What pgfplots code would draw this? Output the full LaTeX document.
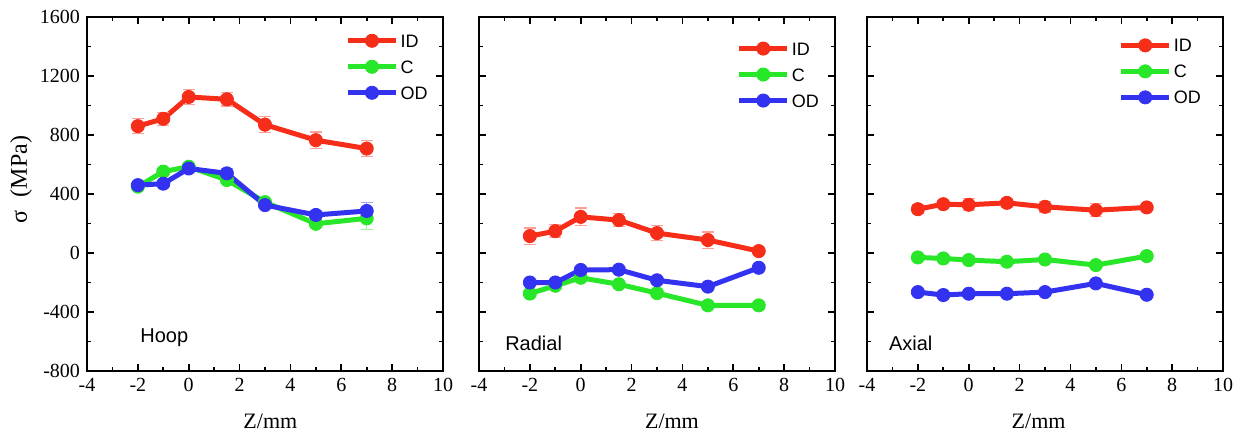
\documentclass[border=0pt]{standalone}
\usepackage{fontspec}
\setmainfont{Liberation Serif}
\setsansfont{Liberation Sans}
\usepackage{pgfplots}
\pgfplotsset{compat=1.18}
\definecolor{cR}{RGB}{245,45,25}
\definecolor{cG}{RGB}{40,230,40}
\definecolor{cB}{RGB}{50,50,240}
\pgfplotsset{
 panel/.style={
  scale only axis, width=178pt, height=177pt,
  xmin=-4, xmax=10, ymin=-800, ymax=1600,
  xtick={-4,-2,...,10}, minor x tick num=1,
  xticklabels={-4,-2,0,2,4,6,8,10},
  ytick={-800,-400,...,1600}, minor y tick num=1,
  tick align=inside, major tick length=3.5pt, minor tick length=2pt,
  axis line style={line width=1pt},
  every tick/.style={black, line width=0.8pt},
  tick label style={font=\rmfamily\fontsize{10}{11}\selectfont},
  xlabel={Z/mm},
  xlabel style={font=\rmfamily\fontsize{11}{12}\selectfont, anchor=center},
  legend style={draw=none, fill=none, font=\sffamily\fontsize{9}{10}\selectfont,
    anchor=north west, inner sep=0pt, row sep=4.5pt,
    nodes={inner sep=1pt, text height=6.5pt, text depth=0pt}},
  legend cell align=left,
  legend image code/.code={\draw[##1, mark repeat=2, mark phase=2] plot coordinates {(0pt,0pt)(12pt,0pt)(24pt,0pt)};},
  every axis plot/.append style={line width=2.5pt, mark=*, mark size=3.3pt, mark options={line width=0.4pt, solid}},
 },
 ser/.style={color=#1, error bars/.cd, y dir=both, y explicit,
   error bar style={line width=0.6pt, #1!45},
   error mark options={rotate=90, mark size=3pt, line width=0.6pt, #1!45}},
}
\begin{document}
\begin{tikzpicture}
% ---------- Hoop ----------
\begin{axis}[panel, at={(43.5pt,32pt)}, anchor=south west,
  yticklabels={-800,-400,0,400,800,1200,1600},
  ylabel={σ\hspace{7pt}(MPa)},
  ylabel style={font=\rmfamily\fontsize{12}{13}\selectfont, at={(axis description cs:-0.185,0.54)}, anchor=center},
  xlabel style={at={(axis description cs:0.515,-0.141)}},
  legend style={at={(axis description cs:0.725,0.958)}}]
\addplot[ser=cR] coordinates {(-2,860) +- (0,50) (-1,910) +- (0,45) (0,1058) +- (0,50) (1.5,1042) +- (0,45) (3,870) +- (0,55) (5,765) +- (0,55) (7,708) +- (0,55)};
\addlegendentry{ID}
\addplot[ser=cG] coordinates {(-2,450) +- (0,20) (-1,552) +- (0,20) (0,585) +- (0,20) (1.5,495) +- (0,25) (3,345) +- (0,20) (5,198) +- (0,25) (7,235) +- (0,75)};
\addlegendentry{C}
\addplot[ser=cB] coordinates {(-2,460) +- (0,20) (-1,470) +- (0,20) (0,573) +- (0,25) (1.5,540) +- (0,30) (3,325) +- (0,25) (5,258) +- (0,30) (7,285) +- (0,55)};
\addlegendentry{OD}
\node[anchor=west, font=\sffamily\fontsize{10}{12}\selectfont] at (axis description cs:0.13,0.093) {Hoop};
\end{axis}
% ---------- Radial ----------
\begin{axis}[panel, at={(239.5pt,32pt)}, anchor=south west, yticklabels={},
  xlabel style={at={(axis description cs:0.542,-0.141)}},
  legend style={at={(axis description cs:0.723,0.936)}}]
\addplot[ser=cR] coordinates {(-2,115) +- (0,55) (-1,148) +- (0,45) (0,245) +- (0,60) (1.5,223) +- (0,45) (3,135) +- (0,50) (5,88) +- (0,55) (7,13) +- (0,20)};
\addlegendentry{ID}
\addplot[ser=cG] coordinates {(-2,-275) +- (0,15) (-1,-222) +- (0,15) (0,-168) +- (0,15) (1.5,-212) +- (0,15) (3,-272) +- (0,15) (5,-355) +- (0,15) (7,-355) +- (0,25)};
\addlegendentry{C}
\addplot[ser=cB] coordinates {(-2,-200) +- (0,15) (-1,-200) +- (0,15) (0,-115) +- (0,15) (1.5,-113) +- (0,15) (3,-185) +- (0,15) (5,-228) +- (0,15) (7,-100) +- (0,20)};
\addlegendentry{OD}
\node[anchor=west, font=\sffamily\fontsize{10}{12}\selectfont] at (axis description cs:0.054,0.079) {Radial};
\end{axis}
% ---------- Axial ----------
\begin{axis}[panel, at={(433.5pt,32pt)}, anchor=south west, yticklabels={},
  xlabel style={at={(axis description cs:0.482,-0.141)}},
  legend style={at={(axis description cs:0.706,0.945)}}]
\addplot[ser=cR] coordinates {(-2,297) +- (0,30) (-1,331) +- (0,25) (0,327) +- (0,40) (1.5,340) +- (0,30) (3,313) +- (0,35) (5,290) +- (0,45) (7,309) +- (0,20)};
\addlegendentry{ID}
\addplot[ser=cG] coordinates {(-2,-30) +- (0,15) (-1,-37) +- (0,15) (0,-48) +- (0,15) (1.5,-59) +- (0,15) (3,-44) +- (0,15) (5,-82) +- (0,15) (7,-21) +- (0,20)};
\addlegendentry{C}
\addplot[ser=cB] coordinates {(-2,-265) +- (0,15) (-1,-285) +- (0,15) (0,-276) +- (0,15) (1.5,-276) +- (0,15) (3,-265) +- (0,15) (5,-206) +- (0,15) (7,-283) +- (0,15)};
\addlegendentry{OD}
\node[anchor=west, font=\sffamily\fontsize{10}{12}\selectfont] at (axis description cs:0.042,0.079) {Axial};
\end{axis}
\pgfresetboundingbox
\useasboundingbox (0,0) rectangle (618pt,217.5pt);
\end{tikzpicture}
\end{document}
